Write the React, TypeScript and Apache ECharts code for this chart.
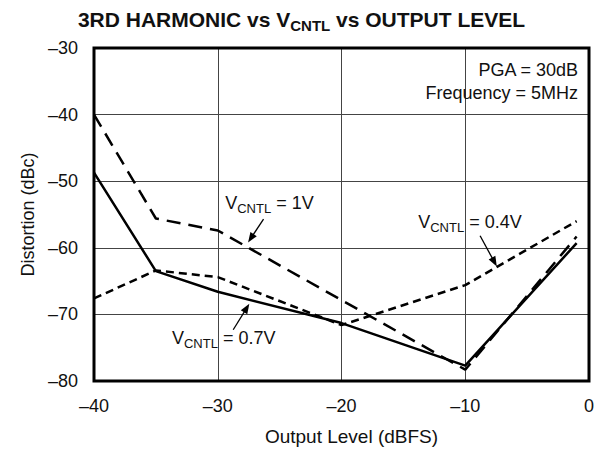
import React, { useEffect, useRef } from "react";
import * as echarts from "echarts";

const FONT = "'Liberation Sans', Arial, Helvetica, sans-serif";

const xTicks = [-40, -30, -20, -10, 0];
const yTicks = [-80, -70, -60, -50, -40, -30];

const level1V = [-40, -35, -30, -10, -1];
const dist1V = [-40, -55.6, -57.4, -78.3, -58.3];

const level07V = [-40, -35, -30, -20, -10, -1];
const dist07V = [-48.7, -63.5, -66.6, -71.3, -77.7, -59.3];

const level04V = [-40, -35, -30, -20, -10, -1];
const dist04V = [-67.6, -63.4, -64.4, -71.6, -65.6, -56];

// annotations: label anchor (left, middle) and arrow tail/tip in data coords
const labels = [
  { value: "1V", at: [-29.4, -53.2], tail: [-26.3, -55.7], tip: [-27.55, -59.2] },
  { value: "0.4V", at: [-13.8, -56.2], tail: [-8.8, -58.2], tip: [-7.45, -62.8] },
  { value: "0.7V", at: [-33.7, -73.6], tail: [-28.75, -72.3], tip: [-27.45, -68.4] },
];
const notes = ["PGA = 30dB", "Frequency = 5MHz"];

const pairs = (xs: number[], ys: number[]) => xs.map((x, i) => [x, ys[i]]);
const fmt = (v: number) => String(v).replace("-", "\u2013");

export default function App() {
  const ref = useRef<HTMLDivElement>(null);
  useEffect(() => {
    if (!ref.current) return;
    const chart = echarts.init(ref.current, null, { renderer: "svg" });
    const lineBase = { type: "line", symbol: "none", silent: true };
    chart.setOption({
      animation: false,
      backgroundColor: "#fff",
      title: {
        text: "{a|3RD HARMONIC vs V}{s|CNTL}{a| vs OUTPUT LEVEL}",
        left: "center",
        top: 0,
        textStyle: {
          rich: {
            a: { fontSize: 21, fontWeight: "bold", fontFamily: FONT, color: "#111" },
            s: { fontSize: 15, fontWeight: "bold", fontFamily: FONT, color: "#111", padding: [13, 0, 0, 0] },
          },
        },
      },
      grid: {
        left: 94,
        top: 48,
        width: 495,
        height: 335,
        show: true,
        borderColor: "#000",
        borderWidth: 3,
        backgroundColor: "transparent",
        z: 3,
      },
      xAxis: {
        type: "value",
        min: xTicks[0],
        max: xTicks[xTicks.length - 1],
        interval: 10,
        name: "Output Level (dBFS)",
        nameLocation: "middle",
        nameGap: 46,
        nameTextStyle: { fontSize: 19, fontFamily: FONT, color: "#111", padding: [0, 0, 0, 20] },
        axisLine: { show: false },
        axisTick: { show: false },
        axisLabel: { fontSize: 18, fontFamily: FONT, color: "#111", margin: 16, formatter: fmt },
        splitLine: { show: true, lineStyle: { color: "#444", width: 1 } },
      },
      yAxis: {
        type: "value",
        min: yTicks[0],
        max: yTicks[yTicks.length - 1],
        interval: 10,
        name: "Distortion (dBc)",
        nameLocation: "middle",
        nameGap: 57,
        nameTextStyle: { fontSize: 18, fontFamily: FONT, color: "#111" },
        axisLine: { show: false },
        axisTick: { show: false },
        axisLabel: { fontSize: 18, fontFamily: FONT, color: "#111", margin: 16, formatter: fmt },
        splitLine: { show: true, lineStyle: { color: "#444", width: 1 } },
      },
      series: [
        { ...lineBase, name: "1V", data: pairs(level1V, dist1V), lineStyle: { color: "#000", width: 2.5, type: [14, 8] } },
        { ...lineBase, name: "0.7V", data: pairs(level07V, dist07V), lineStyle: { color: "#000", width: 2.5, type: "solid" } },
        { ...lineBase, name: "0.4V", data: pairs(level04V, dist04V), lineStyle: { color: "#000", width: 2.5, type: [8, 5] } },
      ],
    });

    const px = (p: number[]) => chart.convertToPixel({ gridIndex: 0 }, p) as number[];
    const graphics: any[] = [];
    labels.forEach((l) => {
      const a = px(l.at);
      graphics.push({
        type: "text",
        x: a[0],
        y: a[1],
        z: 10,
        style: {
          text: `{v|V}{s|CNTL}{v| = ${l.value}}`,
          align: "left",
          verticalAlign: "middle",
          rich: {
            v: { fontSize: 18, fontFamily: FONT, fill: "#111" },
            s: { fontSize: 13, fontFamily: FONT, fill: "#111", padding: [11, 0, 0, 0] },
          },
        },
      });
      const t = px(l.tail);
      const h = px(l.tip);
      const dx = h[0] - t[0];
      const dy = h[1] - t[1];
      const len = Math.hypot(dx, dy);
      const ux = dx / len;
      const uy = dy / len;
      const hl = 10;
      const hw = 3.8;
      graphics.push({
        type: "line",
        z: 10,
        shape: { x1: t[0], y1: t[1], x2: h[0] - ux * 6, y2: h[1] - uy * 6 },
        style: { stroke: "#000", lineWidth: 1.3 },
      });
      graphics.push({
        type: "polygon",
        z: 10,
        shape: {
          points: [
            [h[0], h[1]],
            [h[0] - ux * hl - uy * hw, h[1] - uy * hl + ux * hw],
            [h[0] - ux * hl + uy * hw, h[1] - uy * hl - ux * hw],
          ],
        },
        style: { fill: "#000" },
      });
    });
    const corner = px([xTicks[xTicks.length - 1], yTicks[yTicks.length - 1]]);
    notes.forEach((n, i) => {
      graphics.push({
        type: "text",
        x: corner[0] - 11,
        y: corner[1] + 22 + i * 23,
        z: 10,
        style: { text: n, align: "right", verticalAlign: "middle", fontSize: 18, fontFamily: FONT, fill: "#111" },
      });
    });
    chart.setOption({ graphic: graphics });

    return () => chart.dispose();
  }, []);
  return (
    <div
      ref={ref}
      style={{ position: "fixed", left: 0, top: 0, width: 603, height: 451, background: "#fff" }}
    />
  );
}
